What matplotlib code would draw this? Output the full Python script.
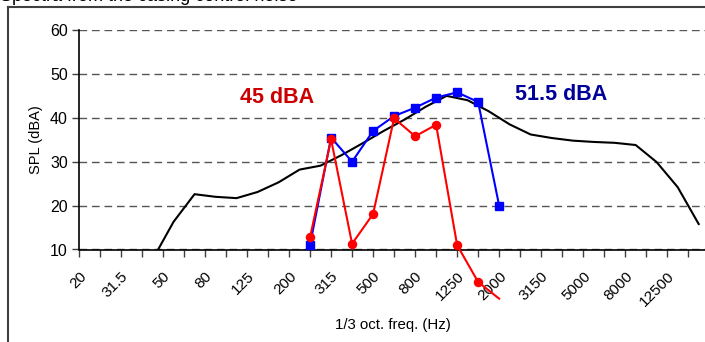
import matplotlib
matplotlib.use('Agg')
import matplotlib.pyplot as plt
from matplotlib.lines import Line2D
import numpy as np

plt.rcParams['font.family'] = ['Liberation Sans', 'DejaVu Sans']

# 1/3 octave bands, one category per band
bands = ['20', '25', '31.5', '40', '50', '63', '80', '100', '125', '160',
         '200', '250', '315', '400', '500', '630', '800', '1000', '1250',
         '1600', '2000', '2500', '3150', '4000', '5000', '6300', '8000',
         '10000', '12500', '16000']

# measured spectra, starting at 250 Hz
blue_start = 11
blue_spl = [11.1, 35.5, 30.0, 37.0, 40.4, 42.3, 44.6, 45.8, 43.6, 20.0]
red_start = 11
red_spl = [12.8, 35.1, 11.3, 18.1, 39.9, 35.8, 38.4, 11.0, 2.6, -1.2]

# reference curve, plotted between category ticks (40 Hz .. 16 kHz)
black_start = 3
black_spl = [7.7, 16.3, 22.6, 22.0, 21.7, 23.1, 25.3, 28.2, 29.1, 31.5,
             34.2, 37.0, 39.6, 42.5, 45.0, 44.0, 41.5, 38.5, 36.2, 35.4,
             34.8, 34.5, 34.3, 33.8, 29.9, 24.2, 15.8]

title = 'Spectra from the casing control noise'

fig = plt.figure(figsize=(7.05, 3.42), dpi=100, facecolor='white')
ax = fig.add_axes([79 / 705, 92.5 / 342, 626 / 705, 219.5 / 342])

xb = np.arange(len(blue_spl)) + blue_start
xr = np.arange(len(red_spl)) + red_start
xk = np.arange(len(black_spl)) + black_start + 0.5

ax.plot(xk, black_spl, color='black', lw=1.5, zorder=3)
ax.plot(xb, blue_spl, color='#0000ff', lw=1.5, marker='s', ms=5.8,
        zorder=4, clip_on=False)
ax.plot(xr, red_spl, color='#ff0000', lw=1.5, marker='o', ms=5.8,
        markevery=list(range(len(red_spl) - 1)), zorder=5, clip_on=False)

fig.text(277 / 705, 1 - 97 / 342, '45 dBA', color='#cc0000', fontsize=15.5,
         fontweight='bold', ha='center', va='center')
fig.text(561 / 705, 1 - 95 / 342, '51.5 dBA', color='#000099',
         fontsize=15.5, fontweight='bold', ha='center', va='center')

ax.set_xlim(0, 29.8)
ax.set_ylim(10, 60)
ax.set_yticks([10, 20, 30, 40, 50, 60])
ax.set_xticks(np.arange(len(bands)))
ax.set_xticklabels([b if i % 2 == 0 else '' for i, b in enumerate(bands)],
                   rotation=45, ha='right', va='top', rotation_mode='anchor',
                   fontsize=11)
ax.tick_params(axis='x', length=5, width=1, color='#404040', pad=9)
ax.tick_params(axis='y', length=5, width=1, color='#404040', labelsize=11.5,
               pad=3)
ax.yaxis.grid(True, linestyle=(0, (5.5, 3.5)), color='#555555', lw=1)
ax.set_axisbelow(True)
for s in ['top', 'right']:
    ax.spines[s].set_visible(False)
for s in ['left', 'bottom']:
    ax.spines[s].set_color('black')
    ax.spines[s].set_linewidth(1.2)

ax.set_ylabel('SPL (dBA)', fontsize=10.5, labelpad=5)
fig.text(393 / 705, 1 - 325 / 342, '1/3 oct. freq. (Hz)', fontsize=10.8,
         ha='center', va='center')

# chart area border (cut off at right and bottom)
fig.add_artist(Line2D([8 / 705, 8 / 705], [-0.1, 1 - 7 / 342],
                      transform=fig.transFigure, color='#404040', lw=1.5))
fig.add_artist(Line2D([8 / 705, 1.1], [1 - 7 / 342, 1 - 7 / 342],
                      transform=fig.transFigure, color='#404040', lw=1.5))
fig.text(0, 1 - 1 / 342, title, fontsize=13, ha='left', va='baseline')

fig.savefig('out.png', dpi=100)
